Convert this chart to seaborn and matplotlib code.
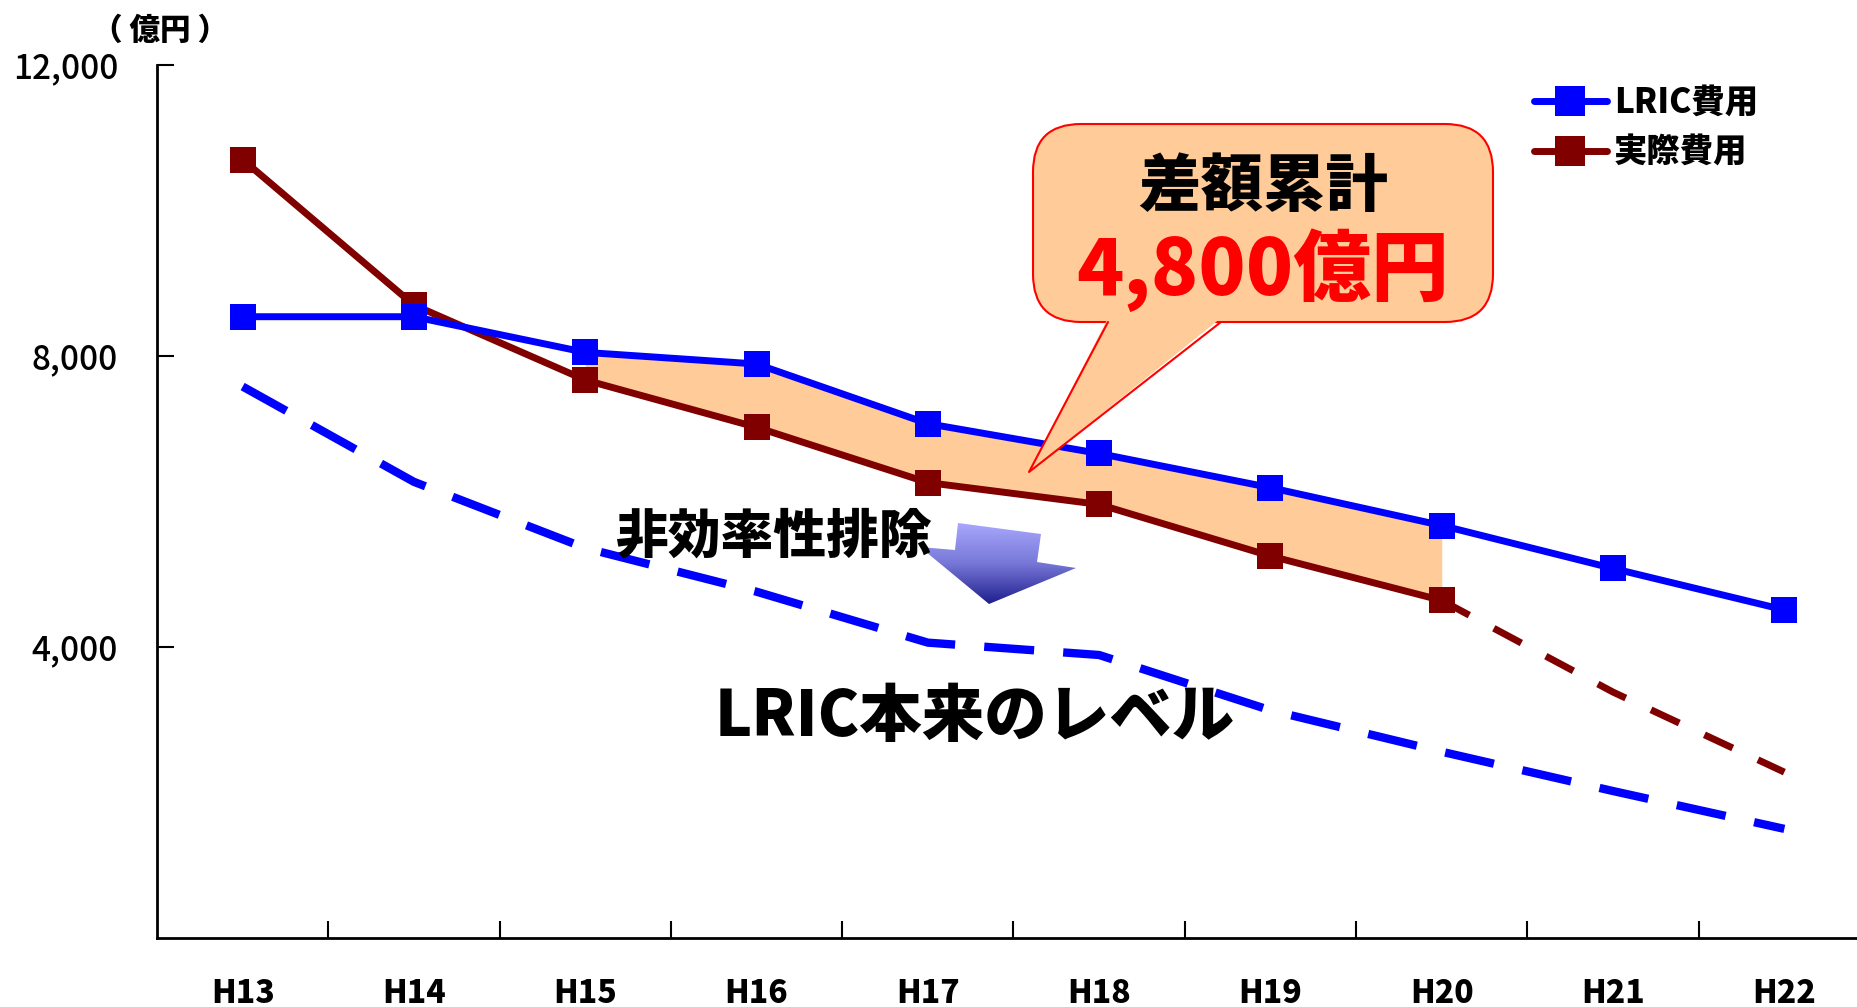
import numpy as np
import pandas as pd
import seaborn as sns
import matplotlib.pyplot as plt
from matplotlib.patches import FancyBboxPatch, Polygon
from matplotlib.lines import Line2D
from matplotlib.colors import LinearSegmentedColormap

# values (億円)
years = ["H13", "H14", "H15", "H16", "H17", "H18", "H19", "H20", "H21", "H22"]
lric_cost = [8540, 8540, 8050, 7890, 7070, 6660, 6190, 5670, 5080, 4510]
actual_cost = [10700, 8700, 7670, 7020, 6260, 5960, 5250, 4640]
actual_proj_years = ["H20", "H21", "H22"]
actual_proj = [4640, 3380, 2280]
lric_ideal = [7580, 6270, 5360, 4760, 4060, 3890, 3130, 2560, 2020, 1500]
fill_years = ["H15", "H16", "H17", "H18", "H19", "H20"]
yticks = [4000, 8000, 12000]

sns.set_style("white")
plt.rcParams["font.family"] = ["Noto Sans CJK JP", "DejaVu Sans"]
plt.rcParams["text.color"] = "black"
plt.rcParams["xtick.color"] = "black"
plt.rcParams["ytick.color"] = "black"

BLUE = "#0000FF"
DRED = "#800000"
PEACH = "#FFCC99"

pos = {y: i for i, y in enumerate(years)}
df_lric = pd.DataFrame({"x": [pos[y] for y in years], "v": lric_cost})
df_act = pd.DataFrame({"x": [pos[y] for y in years[:len(actual_cost)]], "v": actual_cost})
df_proj = pd.DataFrame({"x": [pos[y] for y in actual_proj_years], "v": actual_proj})
df_ideal = pd.DataFrame({"x": [pos[y] for y in years], "v": lric_ideal})

W, H = 1858, 1007
fig = plt.figure(figsize=(W / 100, H / 100), dpi=100)
ax = fig.add_axes([157 / W, 69 / H, 1713 / W, (942 - 69) / H])

# shaded gap between the two cost lines
fx = [pos[y] for y in fill_years]
ax.fill_between(fx, [lric_cost[i] for i in fx], [actual_cost[i] for i in fx],
                color=PEACH, lw=0, zorder=1)

sns.lineplot(data=df_ideal, x="x", y="v", ax=ax, color=BLUE, lw=6, zorder=2)
ax.lines[-1].set_dashes([6, 3.5])
sns.lineplot(data=df_proj, x="x", y="v", ax=ax, color=DRED, lw=5, zorder=2)
ax.lines[-1].set_dashes([4.5, 4])
sns.lineplot(data=df_act, x="x", y="v", ax=ax, color=DRED, lw=5, marker="s",
             markersize=19, markeredgewidth=0, zorder=3)
sns.lineplot(data=df_lric, x="x", y="v", ax=ax, color=BLUE, lw=5, marker="s",
             markersize=19, markeredgewidth=0, zorder=4)

ax.set_xlim(-0.5, len(years) - 0.5)
ax.set_ylim(0, 12000)
ax.set_xlabel("")
ax.set_ylabel("")
ax.set_yticks(yticks)
ax.set_yticklabels([f"{v:,}" for v in yticks], fontsize=24, fontweight="medium")
ax.set_xticks(range(len(years)))
ax.set_xticklabels(years, fontsize=23, fontweight="heavy")
ax.set_xticks(np.arange(0.5, len(years) - 0.5), minor=True)
ax.tick_params(axis="x", which="major", bottom=False, length=0, pad=28)
ax.tick_params(axis="x", which="minor", bottom=True, direction="in", length=12, width=1.5)
ax.tick_params(axis="y", left=True, direction="in", length=12, width=1.5, pad=28)
for s in ["top", "right"]:
    ax.spines[s].set_visible(False)
for s in ["left", "bottom"]:
    ax.spines[s].set_linewidth(2)
    ax.spines[s].set_color("black")

handles = [Line2D([], [], color=BLUE, lw=5, marker="s", markersize=21, markeredgewidth=0),
           Line2D([], [], color=DRED, lw=5, marker="s", markersize=21, markeredgewidth=0)]
leg = ax.legend(handles, ["LRIC費用", "実際費用"], loc="upper left",
                bbox_to_anchor=(1517 / W, 1 - 68 / H), bbox_transform=fig.transFigure,
                frameon=False, handlelength=2.2, handletextpad=0.2, labelspacing=0.45,
                borderpad=0, prop={"size": 24, "weight": "heavy"})

# overlay in pixel coordinates for annotations
ov = fig.add_axes([0, 0, 1, 1])
ov.set_xlim(0, W)
ov.set_ylim(H, 0)
ov.axis("off")
ov.patch.set_alpha(0)

ov.text(160, 30, "（ 億円 ）", fontsize=22, fontweight="heavy", ha="center", va="center")

# callout box
box = FancyBboxPatch((1033, 124), 460, 198, boxstyle="round,pad=0,rounding_size=48",
                     fc=PEACH, ec="red", lw=1.5, zorder=5)
ov.add_patch(box)
tail = [(1108, 318), (1029, 472), (1221, 318)]
ov.add_patch(Polygon(tail, closed=True, fc=PEACH, ec="none", zorder=6))
ov.plot([1108, 1029, 1221], [322, 472, 322], color="red", lw=1.5, zorder=7)
ov.text(1263, 187, "差額累計", fontsize=45, fontweight="heavy", ha="center", va="center", zorder=8)
ov.text(1263, 270, "4,800億円", fontsize=56, fontweight="heavy", color="#FF0000",
        ha="center", va="center", zorder=8)

# gradient arrow
arrow_pts = [(958, 523), (1041, 534), (1037, 562), (1076, 568), (989, 604), (920, 547), (955, 550)]
cmap = LinearSegmentedColormap.from_list("arr", ["#ABABFF", "#7878D8", "#1A1A8A"])
grad = np.linspace(0, 1, 256).reshape(-1, 1)
im = ov.imshow(grad, cmap=cmap, extent=(915, 1080, 606, 520), aspect="auto", zorder=3)
clip = Polygon(arrow_pts, closed=True, fc="none", ec="none", transform=ov.transData)
ov.add_patch(clip)
im.set_clip_path(clip)
ov.set_xlim(0, W)
ov.set_ylim(H, 0)

ov.text(773, 537, "非効率性排除", fontsize=38, fontweight="heavy", ha="center", va="center", zorder=4)
ov.text(975, 717, "LRIC本来のレベル", fontsize=45, fontweight="heavy", ha="center", va="center", zorder=4)

fig.savefig("out.png", dpi=100)
